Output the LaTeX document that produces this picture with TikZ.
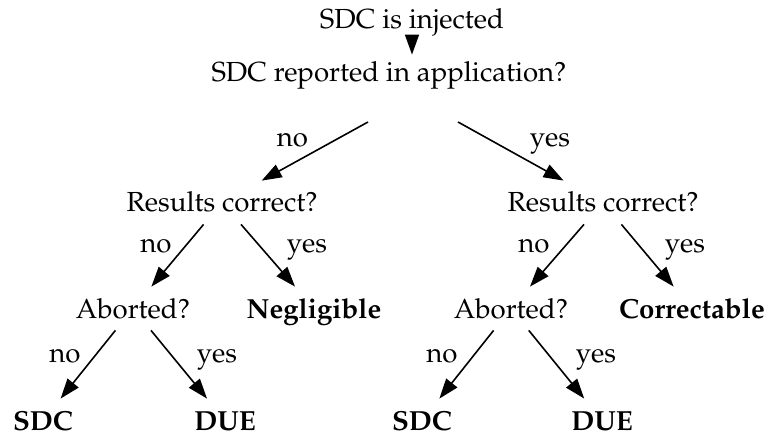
\documentclass[tikz,border=0pt]{standalone}
\usepackage[T1]{fontenc}
\usepackage{mathpazo}
\usetikzlibrary{arrows.meta,calc}
\begin{document}
\begin{tikzpicture}[x=0.5pt,y=-0.5pt,
    every node/.style={font=\fontsize{13.8}{16}\selectfont},
    q/.style={anchor=base,inner sep=0pt,text height=11pt,text depth=1.5pt,minimum height=21.5pt},
    res/.style={q,font=\fontsize{13.8}{16}\selectfont\bfseries},
    lbl/.style={anchor=base,inner sep=0pt},
    arr/.style={-{Triangle[length=10pt,width=7pt]},line width=0.8pt}]
    \useasboundingbox (0,0) rectangle (773,439);
    % questions
    \node[q] (inj) at (412,28) {SDC is injected};
    \node[q] (rep) at (389,82) {SDC reported in application?};
    \node[q] (rcL) at (222,212) {Results correct?};
    \node[q] (rcR) at (603,212) {Results correct?};
    \node[q] (abL) at (133,318) {Aborted?};
    \node[q] (abR) at (511,318) {Aborted?};
    % outcomes
    \node[res] (negl) at (314,318) {Negligible};
    \node[res] (corr) at (692,318) {Correctable};
    \node[res] (sdcL) at (43,430) {SDC};
    \node[res] (dueL) at (225,430) {DUE};
    \node[res] (sdcR) at (422,430) {SDC};
    \node[res] (dueR) at (602,430) {DUE};
    % edges
    \draw[arr,shorten <=-4pt,shorten >=-2pt] (inj) -- (inj |- rep.north);
    \draw[arr] ($(rep)+(-21,49.5)$) -- (rcL);
    \draw[arr] ($(rep)+(69,49.5)$) -- (rcR);
    \draw[arr] (rcL) -- (abL);
    \draw[arr] (rcL) -- (negl);
    \draw[arr] (rcR) -- (abR);
    \draw[arr] (rcR) -- (corr);
    \draw[arr] (abL) -- (sdcL);
    \draw[arr] (abL) -- (dueL);
    \draw[arr] (abR) -- (sdcR);
    \draw[arr] (abR) -- (dueR);
    % edge labels
    \node[lbl] (n1) at (292.5,147) {no};
    \node[lbl] (y1) at (550,147) {yes};
    \node[lbl] (n2) at (156,252) {no};
    \node[lbl] (y2) at (307,252) {yes};
    \node[lbl] (n3) at (534,252) {no};
    \node[lbl] (y3) at (685,252) {yes};
    \node[lbl] (n4) at (65,362) {no};
    \node[lbl] (y4) at (217,362) {yes};
    \node[lbl] (n5) at (442,362) {no};
    \node[lbl] (y5) at (596,362) {yes};
\end{tikzpicture}
\end{document}
